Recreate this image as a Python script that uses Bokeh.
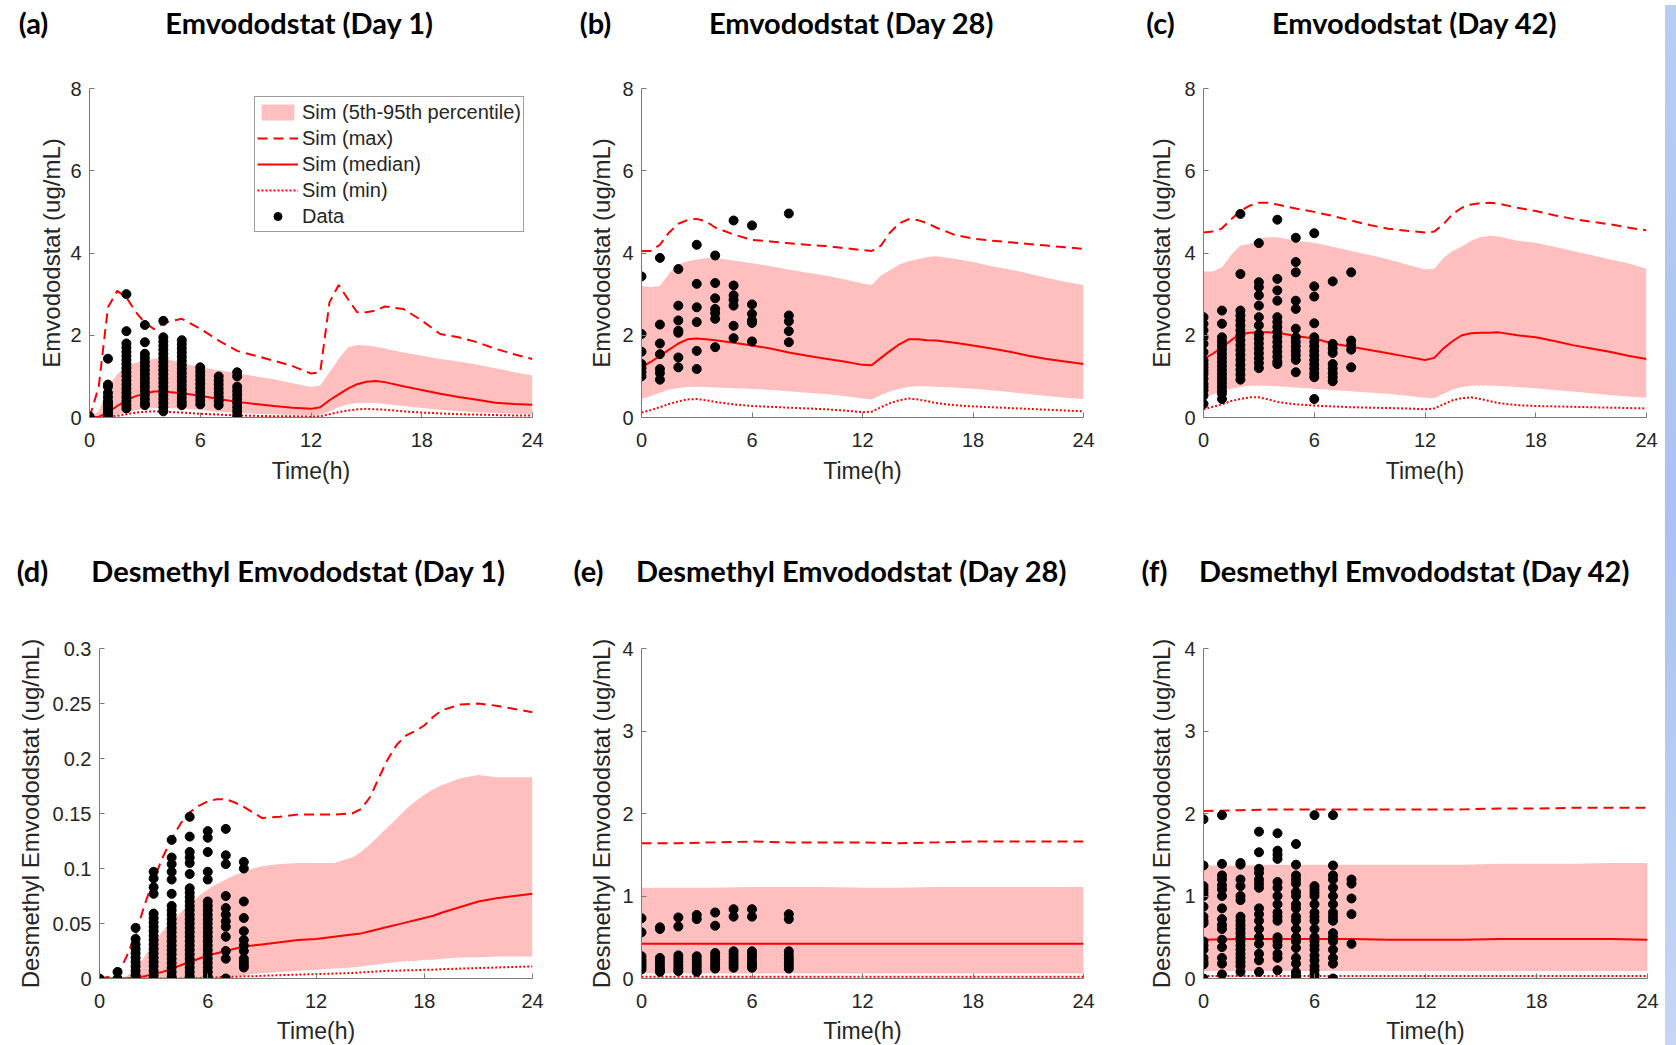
from bokeh.plotting import figure
from bokeh.layouts import row, column
from bokeh.models import Legend, LegendItem, FixedTicker, Range1d, Div
from bokeh.core.properties import value
from bokeh.embed import file_html
from bokeh.resources import INLINE

# ---------------- data ----------------
T_ABC = [0, 0.5, 1, 1.5, 2, 2.5, 3, 3.5, 4, 5, 6, 7, 8, 9, 10, 11, 12, 12.5, 13, 13.5,
         14, 14.5, 15, 15.5, 16, 17, 18, 19, 20, 21, 22, 23, 24]

A_MAX = [0, 0.75, 2.68, 3.08, 2.92, 2.57, 2.3, 2.15, 2.3, 2.4, 2.16, 1.87, 1.62, 1.5, 1.38, 1.25, 1.07, 1.1, 2.8, 3.22,
         2.88, 2.56, 2.56, 2.6, 2.7, 2.64, 2.36, 2.03, 1.95, 1.83, 1.67, 1.54, 1.42]
A_MED = [0, 0.02, 0.12, 0.28, 0.42, 0.52, 0.58, 0.63, 0.63, 0.59, 0.53, 0.45, 0.38, 0.33, 0.28, 0.24, 0.21, 0.25, 0.42, 0.56,
         0.7, 0.81, 0.87, 0.89, 0.86, 0.76, 0.67, 0.58, 0.5, 0.43, 0.36, 0.33, 0.31]
A_P95 = [0, 0.15, 0.75, 1.05, 1.26, 1.33, 1.38, 1.43, 1.45, 1.32, 1.22, 1.15, 1.08, 1.0, 0.93, 0.83, 0.74, 0.78, 1.1, 1.42,
         1.7, 1.76, 1.75, 1.72, 1.68, 1.58, 1.5, 1.42, 1.36, 1.28, 1.2, 1.1, 1.02]
A_P05 = [0, 0, 0.02, 0.06, 0.12, 0.17, 0.21, 0.23, 0.24, 0.22, 0.18, 0.14, 0.11, 0.09, 0.07, 0.06, 0.05, 0.06, 0.15, 0.25,
         0.32, 0.35, 0.36, 0.35, 0.33, 0.28, 0.23, 0.19, 0.16, 0.13, 0.11, 0.09, 0.08]
A_MIN = [0, 0, 0.01, 0.04, 0.08, 0.12, 0.14, 0.15, 0.14, 0.12, 0.09, 0.07, 0.05, 0.04, 0.03, 0.03, 0.02, 0.03, 0.08, 0.13,
         0.17, 0.2, 0.21, 0.2, 0.19, 0.15, 0.12, 0.1, 0.08, 0.07, 0.06, 0.05, 0.05]
A_DT = [0, 1, 2, 3, 4, 5, 6, 7, 8]
A_DV = [
    [0.0, 0.03],
    [1.43, 0.8, 0.75, 0.6, 0.5, 0.4, 0.35, 0.3, 0.25, 0.2, 0.15, 0.1, 0.05, 0.0],
    [3.0, 2.1, 1.8, 1.7, 1.6, 1.5, 1.4, 1.3, 1.2, 1.1, 1.0, 0.9, 0.8, 0.7, 0.6, 0.5, 0.4, 0.3, 0.22],
    [2.25, 1.83, 1.55, 1.45, 1.35, 1.25, 1.15, 1.05, 0.95, 0.85, 0.75, 0.65, 0.55, 0.45, 0.35, 0.3],
    [2.35, 1.95, 1.85, 1.75, 1.65, 1.55, 1.45, 1.35, 1.25, 1.15, 1.05, 0.95, 0.85, 0.75, 0.65, 0.55, 0.45, 0.35, 0.25, 0.15],
    [1.88, 1.78, 1.68, 1.58, 1.48, 1.38, 1.28, 1.18, 1.08, 0.98, 0.88, 0.78, 0.68, 0.58, 0.48, 0.38, 0.3],
    [1.22, 1.12, 1.02, 0.92, 0.82, 0.72, 0.62, 0.52, 0.42, 0.32],
    [1.0, 0.9, 0.8, 0.7, 0.6, 0.5, 0.4, 0.3],
    [1.1, 1.0, 0.75, 0.65, 0.55, 0.45, 0.35, 0.25, 0.15, 0.05],
]

B_MAX = [4.05, 4.05, 4.2, 4.5, 4.71, 4.8, 4.83, 4.77, 4.62, 4.45, 4.32, 4.28, 4.24, 4.2, 4.17, 4.12, 4.07, 4.05, 4.18, 4.5,
         4.72, 4.82, 4.8, 4.73, 4.62, 4.44, 4.35, 4.3, 4.26, 4.22, 4.18, 4.14, 4.1]
B_MED = [1.22, 1.35, 1.5, 1.65, 1.8, 1.9, 1.92, 1.9, 1.88, 1.82, 1.75, 1.68, 1.58, 1.5, 1.43, 1.36, 1.28, 1.27, 1.45, 1.62,
         1.78, 1.9, 1.9, 1.88, 1.87, 1.82, 1.75, 1.68, 1.6, 1.5, 1.42, 1.36, 1.3]
B_P95 = [3.2, 3.17, 3.2, 3.5, 3.72, 3.8, 3.84, 3.87, 3.88, 3.82, 3.75, 3.68, 3.6, 3.52, 3.45, 3.36, 3.26, 3.22, 3.45, 3.58,
         3.72, 3.8, 3.85, 3.9, 3.92, 3.86, 3.78, 3.68, 3.6, 3.5, 3.4, 3.3, 3.22]
B_P05 = [0.45, 0.52, 0.6, 0.68, 0.72, 0.74, 0.75, 0.74, 0.73, 0.71, 0.7, 0.67, 0.64, 0.6, 0.57, 0.52, 0.46, 0.44, 0.55, 0.64,
         0.7, 0.74, 0.76, 0.76, 0.75, 0.73, 0.7, 0.66, 0.62, 0.57, 0.52, 0.48, 0.45]
B_MIN = [0.12, 0.18, 0.25, 0.33, 0.39, 0.44, 0.45, 0.42, 0.38, 0.32, 0.28, 0.26, 0.24, 0.22, 0.2, 0.17, 0.13, 0.14, 0.25, 0.35,
         0.42, 0.46, 0.44, 0.4, 0.35, 0.3, 0.27, 0.25, 0.23, 0.21, 0.19, 0.17, 0.15]
B_DT = [0, 1, 2, 3, 4, 5, 6, 8]
B_DV = [
    [3.43, 2.03, 1.6, 1.3, 1.2, 1.1, 1.0],
    [3.88, 2.26, 1.8, 1.54, 1.18, 1.08, 0.92],
    [3.61, 2.72, 2.36, 2.11, 2.06, 1.46, 1.22],
    [4.2, 3.25, 2.68, 2.32, 1.62, 1.18],
    [3.94, 3.27, 2.9, 2.64, 2.54, 2.4, 1.71],
    [4.79, 3.21, 2.97, 2.86, 2.72, 2.23, 1.93],
    [4.67, 2.75, 2.52, 2.36, 2.3, 1.85],
    [4.96, 2.48, 2.34, 2.1, 1.83],
]

C_MAX = [4.5, 4.52, 4.6, 4.82, 5.02, 5.15, 5.22, 5.22, 5.18, 5.08, 5.0, 4.9, 4.79, 4.68, 4.59, 4.54, 4.5, 4.52, 4.7, 4.95,
         5.1, 5.18, 5.21, 5.22, 5.2, 5.1, 5.02, 4.92, 4.83, 4.76, 4.7, 4.62, 4.55]
C_MED = [1.42, 1.55, 1.7, 1.88, 2.03, 2.06, 2.07, 2.07, 2.06, 1.98, 1.92, 1.8, 1.72, 1.64, 1.56, 1.48, 1.4, 1.45, 1.68, 1.86,
         2.0, 2.05, 2.06, 2.06, 2.07, 2.0, 1.95, 1.86, 1.76, 1.68, 1.6, 1.5, 1.42]
C_P95 = [3.55, 3.55, 3.65, 3.95, 4.18, 4.22, 4.35, 4.38, 4.38, 4.3, 4.25, 4.15, 4.05, 3.95, 3.85, 3.72, 3.6, 3.62, 3.88, 4.05,
         4.16, 4.3, 4.38, 4.42, 4.4, 4.3, 4.25, 4.15, 4.05, 3.95, 3.85, 3.75, 3.62]
C_P05 = [0.5, 0.56, 0.63, 0.7, 0.74, 0.77, 0.78, 0.77, 0.76, 0.73, 0.7, 0.67, 0.64, 0.61, 0.58, 0.53, 0.48, 0.47, 0.58, 0.68,
         0.74, 0.77, 0.78, 0.78, 0.77, 0.74, 0.71, 0.67, 0.63, 0.59, 0.55, 0.51, 0.48]
C_MIN = [0.2, 0.26, 0.32, 0.4, 0.45, 0.49, 0.49, 0.44, 0.38, 0.32, 0.29, 0.27, 0.25, 0.24, 0.23, 0.22, 0.2, 0.22, 0.32, 0.42,
         0.47, 0.49, 0.45, 0.4, 0.35, 0.3, 0.28, 0.27, 0.26, 0.25, 0.24, 0.23, 0.22]
C_DT = [0, 1, 2, 3, 4, 5, 6, 7, 8]
C_DV = [
    [2.44, 2.28, 2.12, 1.95, 1.79, 1.59, 1.39, 1.3, 1.22, 1.14, 1.06, 0.94, 0.82, 0.74, 0.66, 0.53, 0.33],
    [2.6, 2.28, 1.95, 1.85, 1.75, 1.65, 1.55, 1.45, 1.35, 1.25, 1.15, 1.05, 0.95, 0.85, 0.75, 0.65, 0.58, 0.45],
    [4.95, 3.49, 2.6, 2.48, 2.36, 2.24, 2.12, 2.0, 1.88, 1.76, 1.64, 1.52, 1.4, 1.28, 1.16, 1.04, 0.92],
    [4.24, 3.29, 3.17, 2.97, 2.72, 2.44, 2.24, 2.03, 1.92, 1.8, 1.68, 1.56, 1.44, 1.32, 1.2],
    [4.81, 3.37, 3.09, 2.84, 2.44, 2.32, 2.2, 2.08, 1.96, 1.84, 1.72, 1.6, 1.48, 1.36, 1.3],
    [4.37, 3.78, 3.53, 2.84, 2.64, 2.16, 1.95, 1.84, 1.73, 1.62, 1.51, 1.4, 1.1],
    [4.48, 3.19, 2.94, 2.29, 1.95, 1.84, 1.73, 1.62, 1.51, 1.4, 1.29, 1.18, 1.07, 0.98, 0.45],
    [3.31, 1.79, 1.68, 1.57, 1.3, 1.19, 1.08, 0.98, 0.88],
    [3.53, 1.87, 1.76, 1.65, 1.22],
]

T_D = [0, 1, 1.5, 2, 2.5, 3, 3.5, 4, 4.5, 5, 5.5, 6, 6.5, 7, 7.5, 8, 8.5, 9, 10, 11,
       12, 13, 14, 14.5, 15, 15.5, 16, 16.5, 17, 17.5, 18, 18.5, 19, 20, 21, 22, 23, 24]
D_MAX = [0, 0.003, 0.02, 0.04, 0.067, 0.09, 0.11, 0.127, 0.141, 0.151, 0.157, 0.161, 0.163, 0.163, 0.16, 0.156, 0.151,
         0.146, 0.147, 0.149, 0.149, 0.149, 0.15, 0.154, 0.165, 0.183, 0.2, 0.213, 0.221, 0.225, 0.23, 0.238, 0.244,
         0.249, 0.25, 0.248, 0.245, 0.242]
D_MED = [0, 0, 0, 0.001, 0.002, 0.004, 0.006, 0.009, 0.012, 0.015, 0.018, 0.021, 0.023, 0.025, 0.027, 0.029, 0.03,
         0.031, 0.033, 0.035, 0.036, 0.038, 0.04, 0.041, 0.043, 0.045, 0.047, 0.049, 0.051, 0.053, 0.055, 0.057, 0.06,
         0.065, 0.07, 0.073, 0.075, 0.077]
D_P95 = [0, 0, 0.002, 0.008, 0.02, 0.032, 0.043, 0.052, 0.06, 0.068, 0.075, 0.081, 0.086, 0.09, 0.094, 0.097, 0.1,
         0.102, 0.104, 0.105, 0.105, 0.105, 0.11, 0.115, 0.122, 0.13, 0.138, 0.146, 0.154, 0.161, 0.167, 0.172, 0.176,
         0.182, 0.185, 0.183, 0.183, 0.183]
D_P05 = [0, 0, 0, 0, 0, 0, 0, 0, 0, 0, 0, 0, 0.0005, 0.001, 0.002, 0.003, 0.004, 0.005, 0.006, 0.007, 0.008, 0.009,
         0.01, 0.011, 0.012, 0.013, 0.014, 0.015, 0.016, 0.016, 0.017, 0.017, 0.018, 0.019, 0.019, 0.02, 0.02, 0.02]
D_MIN = [0, 0, 0, 0, 0, 0, 0, 0, 0, 0, 0.0005, 0.001, 0.001, 0.0015, 0.0015, 0.002, 0.002, 0.0025, 0.003, 0.0035,
         0.004, 0.0045, 0.005, 0.0055, 0.006, 0.0065, 0.007, 0.007, 0.0075, 0.0075, 0.008, 0.008, 0.0085, 0.009, 0.0095,
         0.01, 0.0105, 0.011]
D_DT = [0, 1, 2, 3, 4, 5, 6, 7, 8]
D_DV = [
    [0.0],
    [0.006, 0.0],
    [0.046, 0.036, 0.031, 0.027, 0.023, 0.019, 0.015, 0.011, 0.007, 0.003, 0.0],
    [0.097, 0.091, 0.083, 0.077, 0.059, 0.055, 0.051, 0.047, 0.043, 0.039, 0.035, 0.031, 0.027, 0.023, 0.019, 0.015,
     0.011, 0.007, 0.003, 0.0],
    [0.126, 0.11, 0.104, 0.097, 0.09, 0.077, 0.066, 0.062, 0.058, 0.054, 0.05, 0.046, 0.042, 0.038, 0.034, 0.03, 0.026,
     0.022, 0.018, 0.014, 0.01, 0.006, 0.002, 0.0],
    [0.147, 0.129, 0.115, 0.11, 0.105, 0.095, 0.082, 0.078, 0.074, 0.07, 0.066, 0.062, 0.058, 0.054, 0.05, 0.046, 0.042,
     0.038, 0.034, 0.03, 0.026, 0.022, 0.018, 0.014, 0.01, 0.006, 0.002, 0.0],
    [0.134, 0.128, 0.115, 0.097, 0.09, 0.07, 0.066, 0.062, 0.058, 0.054, 0.05, 0.046, 0.042, 0.038, 0.034, 0.03, 0.026,
     0.022, 0.018, 0.014, 0.01, 0.006, 0.002, 0.0],
    [0.136, 0.112, 0.104, 0.075, 0.064, 0.058, 0.052, 0.047, 0.038, 0.025, 0.018, 0.0],
    [0.106, 0.1, 0.07, 0.055, 0.043, 0.035, 0.03, 0.025, 0.018, 0.015, 0.012, 0.01],
]

T_EF = [0, 2, 4, 6, 8, 10, 12, 14, 16, 18, 20, 22, 24]
E_MAX = [1.64, 1.64, 1.65, 1.66, 1.65, 1.65, 1.65, 1.64, 1.65, 1.66, 1.66, 1.66, 1.66]
E_MED = [0.42, 0.42, 0.42, 0.42, 0.42, 0.42, 0.42, 0.42, 0.42, 0.42, 0.42, 0.42, 0.42]
E_P95 = [1.1, 1.1, 1.1, 1.11, 1.11, 1.11, 1.1, 1.1, 1.11, 1.11, 1.11, 1.11, 1.11]
E_P05 = [0.06, 0.06, 0.06, 0.06, 0.06, 0.06, 0.06, 0.06, 0.06, 0.06, 0.06, 0.06, 0.06]
E_MIN = [0.02, 0.02, 0.02, 0.02, 0.02, 0.02, 0.02, 0.02, 0.02, 0.02, 0.02, 0.02, 0.02]
E_DT = [0, 1, 2, 3, 4, 5, 6, 8]
E_DV = [
    [0.73, 0.56, 0.27, 0.23, 0.2, 0.17, 0.14, 0.11],
    [0.62, 0.6, 0.25, 0.21, 0.17, 0.13, 0.1, 0.08],
    [0.74, 0.63, 0.28, 0.24, 0.2, 0.16, 0.12, 0.09],
    [0.77, 0.72, 0.27, 0.23, 0.19, 0.15, 0.11, 0.08],
    [0.8, 0.64, 0.31, 0.27, 0.23, 0.19, 0.15, 0.12],
    [0.84, 0.75, 0.33, 0.29, 0.25, 0.21, 0.17, 0.13],
    [0.84, 0.75, 0.33, 0.29, 0.25, 0.2, 0.16, 0.13],
    [0.78, 0.72, 0.33, 0.28, 0.24, 0.2, 0.16, 0.12],
]

F_MAX = [2.03, 2.04, 2.05, 2.05, 2.05, 2.05, 2.05, 2.05, 2.06, 2.06, 2.07, 2.07, 2.07]
F_MED = [0.47, 0.48, 0.48, 0.48, 0.48, 0.47, 0.47, 0.47, 0.48, 0.48, 0.48, 0.48, 0.47]
F_P95 = [1.37, 1.37, 1.38, 1.38, 1.38, 1.38, 1.38, 1.38, 1.39, 1.39, 1.39, 1.4, 1.4]
F_P05 = [0.09, 0.09, 0.09, 0.09, 0.09, 0.09, 0.09, 0.09, 0.09, 0.09, 0.09, 0.09, 0.09]
F_MIN = [0.03, 0.03, 0.03, 0.03, 0.03, 0.03, 0.03, 0.03, 0.03, 0.03, 0.03, 0.03, 0.03]
F_DT = [0, 1, 2, 3, 4, 5, 6, 7, 8]
F_DV = [
    [1.93, 1.37, 1.12, 1.08, 1.04, 1.0, 0.87, 0.75, 0.7, 0.67, 0.45, 0.4, 0.35, 0.25, 0.2, 0.17, 0.0],
    [1.98, 1.39, 1.25, 1.2, 1.13, 1.08, 1.0, 0.85, 0.72, 0.65, 0.6, 0.47, 0.38, 0.25, 0.18, 0.05],
    [1.4, 1.38, 1.2, 1.12, 1.0, 0.95, 0.75, 0.7, 0.65, 0.6, 0.55, 0.5, 0.45, 0.4, 0.35, 0.3, 0.25, 0.2, 0.15, 0.08],
    [1.78, 1.53, 1.33, 1.28, 1.2, 1.15, 1.1, 0.85, 0.78, 0.7, 0.6, 0.5, 0.42, 0.3, 0.22, 0.08],
    [1.76, 1.55, 1.5, 1.45, 1.17, 1.1, 1.0, 0.9, 0.8, 0.75, 0.7, 0.5, 0.45, 0.4, 0.3, 0.25, 0.1],
    [1.63, 1.38, 1.25, 1.2, 1.15, 1.05, 1.0, 0.9, 0.85, 0.75, 0.7, 0.6, 0.5, 0.45, 0.37, 0.25, 0.18, 0.08, 0.04, 0.0],
    [1.98, 1.12, 1.08, 1.04, 1.0, 0.9, 0.8, 0.75, 0.7, 0.6, 0.5, 0.45, 0.4, 0.35, 0.28, 0.22, 0.15, 0.1, 0.05, 0.0],
    [1.98, 1.37, 1.25, 1.2, 1.1, 1.0, 0.9, 0.8, 0.75, 0.7, 0.55, 0.5, 0.45, 0.35, 0.25, 0.18, 0.0],
    [1.2, 1.15, 0.97, 0.78, 0.42],
]

X_TICKS = [0, 6, 12, 18, 24]
Y_TICKS_EMV = [0, 2, 4, 6, 8]
Y_TICKS_D1 = [0, 0.05, 0.1, 0.15, 0.2, 0.25, 0.3]
Y_LABELS_D1 = ["0", "0.05", "0.1", "0.15", "0.2", "0.25", "0.3"]
Y_TICKS_D = [0, 1, 2, 3, 4]

TITLES_TOP = ["Emvododstat (Day 1)", "Emvododstat (Day 28)", "Emvododstat (Day 42)"]
TITLES_BOT = ["Desmethyl Emvododstat (Day 1)", "Desmethyl Emvododstat (Day 28)", "Desmethyl Emvododstat (Day 42)"]
TAGS_TOP = ["(a)", "(b)", "(c)"]
TAGS_BOT = ["(d)", "(e)", "(f)"]
YLAB_TOP = "Emvododstat (ug/mL)"
YLAB_BOT = "Desmethyl Emvododstat (ug/mL)"
LEGEND_LABELS = ["Sim (5th-95th percentile)", "Sim (max)", "Sim (median)", "Sim (min)", "Data"]

# ---------------- styling ----------------
RED = "#FF0000"
BAND = "#FFBFBF"
AXC = "#7a7a7a"
TXT = "#262626"
AXFONT = "Liberation Sans"
TFONT = "Lato"


def title_strip(height, ty, title_x, tag_x, titles, tags):
    p = figure(width=1660, height=height, x_range=Range1d(0, 1660), y_range=Range1d(height, 0),
               x_axis_type=None, y_axis_type=None, min_border=0,
               output_backend="svg", toolbar_location=None, tools="")
    p.outline_line_color = None
    p.grid.visible = False
    p.background_fill_color = "white"
    p.border_fill_color = "white"
    p.text(x=title_x + tag_x, y=[ty] * 6, text=titles + tags,
           text_font=value(TFONT), text_font_style="bold", text_font_size=value("29px"),
           text_color="black", text_align="center", text_baseline="middle")
    return p


def panel(T, mx, md, hi, lo, mn, dt, dv, ymax, yticks, ylabels, ylab, g, legend=False):
    p = figure(frame_width=g["fw"], frame_height=g["fh"],
               min_border_left=g["bl"], min_border_right=g["br"],
               min_border_top=g["bt"], min_border_bottom=g["bb"],
               x_range=Range1d(0, 24), y_range=Range1d(0, ymax),
               output_backend="svg", toolbar_location=None, tools="")
    p.outline_line_color = None
    p.xgrid.visible = False
    p.ygrid.visible = False
    p.background_fill_color = "white"
    p.border_fill_color = "white"

    band = p.varea(x=T, y1=lo, y2=hi, fill_color=BAND, fill_alpha=1.0)
    lmax = p.line(T, mx, line_color=RED, line_width=2, line_dash="10 6")
    lmed = p.line(T, md, line_color=RED, line_width=2)
    lmin = p.line(T, mn, line_color=RED, line_width=2, line_dash="2 2")
    xs, ys = [], []
    for t, vals in zip(dt, dv):
        xs.extend([t] * len(vals))
        ys.extend(vals)
    pts = p.scatter(xs, ys, size=9, fill_color="black", line_color="black")

    for ax in (p.xaxis[0], p.yaxis[0]):
        ax.axis_line_color = AXC
        ax.axis_line_width = 1
        ax.major_tick_line_color = AXC
        ax.major_tick_in = 5
        ax.major_tick_out = 0
        ax.minor_tick_line_color = None
        ax.major_label_text_font = AXFONT
        ax.major_label_text_font_size = "20px"
        ax.major_label_text_color = TXT
        ax.axis_label_text_font = AXFONT
        ax.axis_label_text_font_style = "normal"
        ax.axis_label_text_color = TXT

    p.xaxis.ticker = FixedTicker(ticks=X_TICKS)
    p.xaxis.axis_label = "Time(h)"
    p.xaxis.axis_label_text_font_size = "23px"
    p.xaxis.major_label_standoff = 15
    p.xaxis.axis_label_standoff = g["xls"]

    p.yaxis.ticker = FixedTicker(ticks=yticks)
    if ylabels is not None:
        p.yaxis.major_label_overrides = {t: s for t, s in zip(yticks, ylabels)}
    p.yaxis.axis_label = ylab
    p.yaxis.axis_label_text_font_size = "24px"
    p.yaxis.major_label_standoff = 8
    p.yaxis.axis_label_standoff = g["yls"]

    if legend:
        items = [LegendItem(label=LEGEND_LABELS[0], renderers=[band]),
                 LegendItem(label=LEGEND_LABELS[1], renderers=[lmax]),
                 LegendItem(label=LEGEND_LABELS[2], renderers=[lmed]),
                 LegendItem(label=LEGEND_LABELS[3], renderers=[lmin]),
                 LegendItem(label=LEGEND_LABELS[4], renderers=[pts])]
        leg = Legend(items=items, location=(165, 185))
        leg.label_text_font = AXFONT
        leg.label_text_font_size = "20px"
        leg.label_text_color = TXT
        leg.glyph_width = 41
        leg.glyph_height = 20
        leg.label_height = 26
        leg.label_standoff = 4
        leg.spacing = 0
        leg.padding = 2
        leg.margin = 0
        leg.border_line_color = "#404040"
        leg.border_line_width = 1
        leg.background_fill_color = "white"
        leg.background_fill_alpha = 1.0
        p.add_layout(leg)
    return p


GA = dict(fw=443, fh=329, bl=89, br=28, bt=38, bb=83, xls=8, yls=2)
GB = dict(fw=442, fh=329, bl=81, br=27, bt=38, bb=83, xls=8, yls=4)
GC = dict(fw=443, fh=329, bl=93, br=14, bt=38, bb=83, xls=8, yls=6)
GD = dict(fw=433, fh=330, bl=99, br=28, bt=48, bb=67, xls=7, yls=6)
GE = dict(fw=442, fh=330, bl=81, br=27, bt=48, bb=67, xls=7, yls=4)
GF = dict(fw=444, fh=330, bl=93, br=13, bt=48, bb=67, xls=7, yls=6)

pa = panel(T_ABC, A_MAX, A_MED, A_P95, A_P05, A_MIN, A_DT, A_DV, 8, Y_TICKS_EMV, None, YLAB_TOP, GA, legend=True)
pb = panel(T_ABC, B_MAX, B_MED, B_P95, B_P05, B_MIN, B_DT, B_DV, 8, Y_TICKS_EMV, None, YLAB_TOP, GB)
pc = panel(T_ABC, C_MAX, C_MED, C_P95, C_P05, C_MIN, C_DT, C_DV, 8, Y_TICKS_EMV, None, YLAB_TOP, GC)
pd = panel(T_D, D_MAX, D_MED, D_P95, D_P05, D_MIN, D_DT, D_DV, 0.3, Y_TICKS_D1, Y_LABELS_D1, YLAB_BOT, GD)
pe = panel(T_EF, E_MAX, E_MED, E_P95, E_P05, E_MIN, E_DT, E_DV, 4, Y_TICKS_D, None, YLAB_BOT, GE)
pf = panel(T_EF, F_MAX, F_MED, F_P95, F_P05, F_MIN, F_DT, F_DV, 4, Y_TICKS_D, None, YLAB_BOT, GF)

top_titles = title_strip(50, 22, [299, 851, 1414], [33, 595, 1160], TITLES_TOP, TAGS_TOP)
bot_titles = title_strip(100, 70, [298, 851, 1414], [32, 588, 1154], TITLES_BOT, TAGS_BOT)

strip = Div(text="", width=16, height=1045,
            styles={"background": "linear-gradient(180deg, #b9cdf4 0%, #a9c2f0 50%, #c7d6f6 100%)"})

layout = row(column(top_titles, row(pa, pb, pc), bot_titles, row(pd, pe, pf)), strip)

open("out.html", "w").write(file_html(layout, INLINE))
